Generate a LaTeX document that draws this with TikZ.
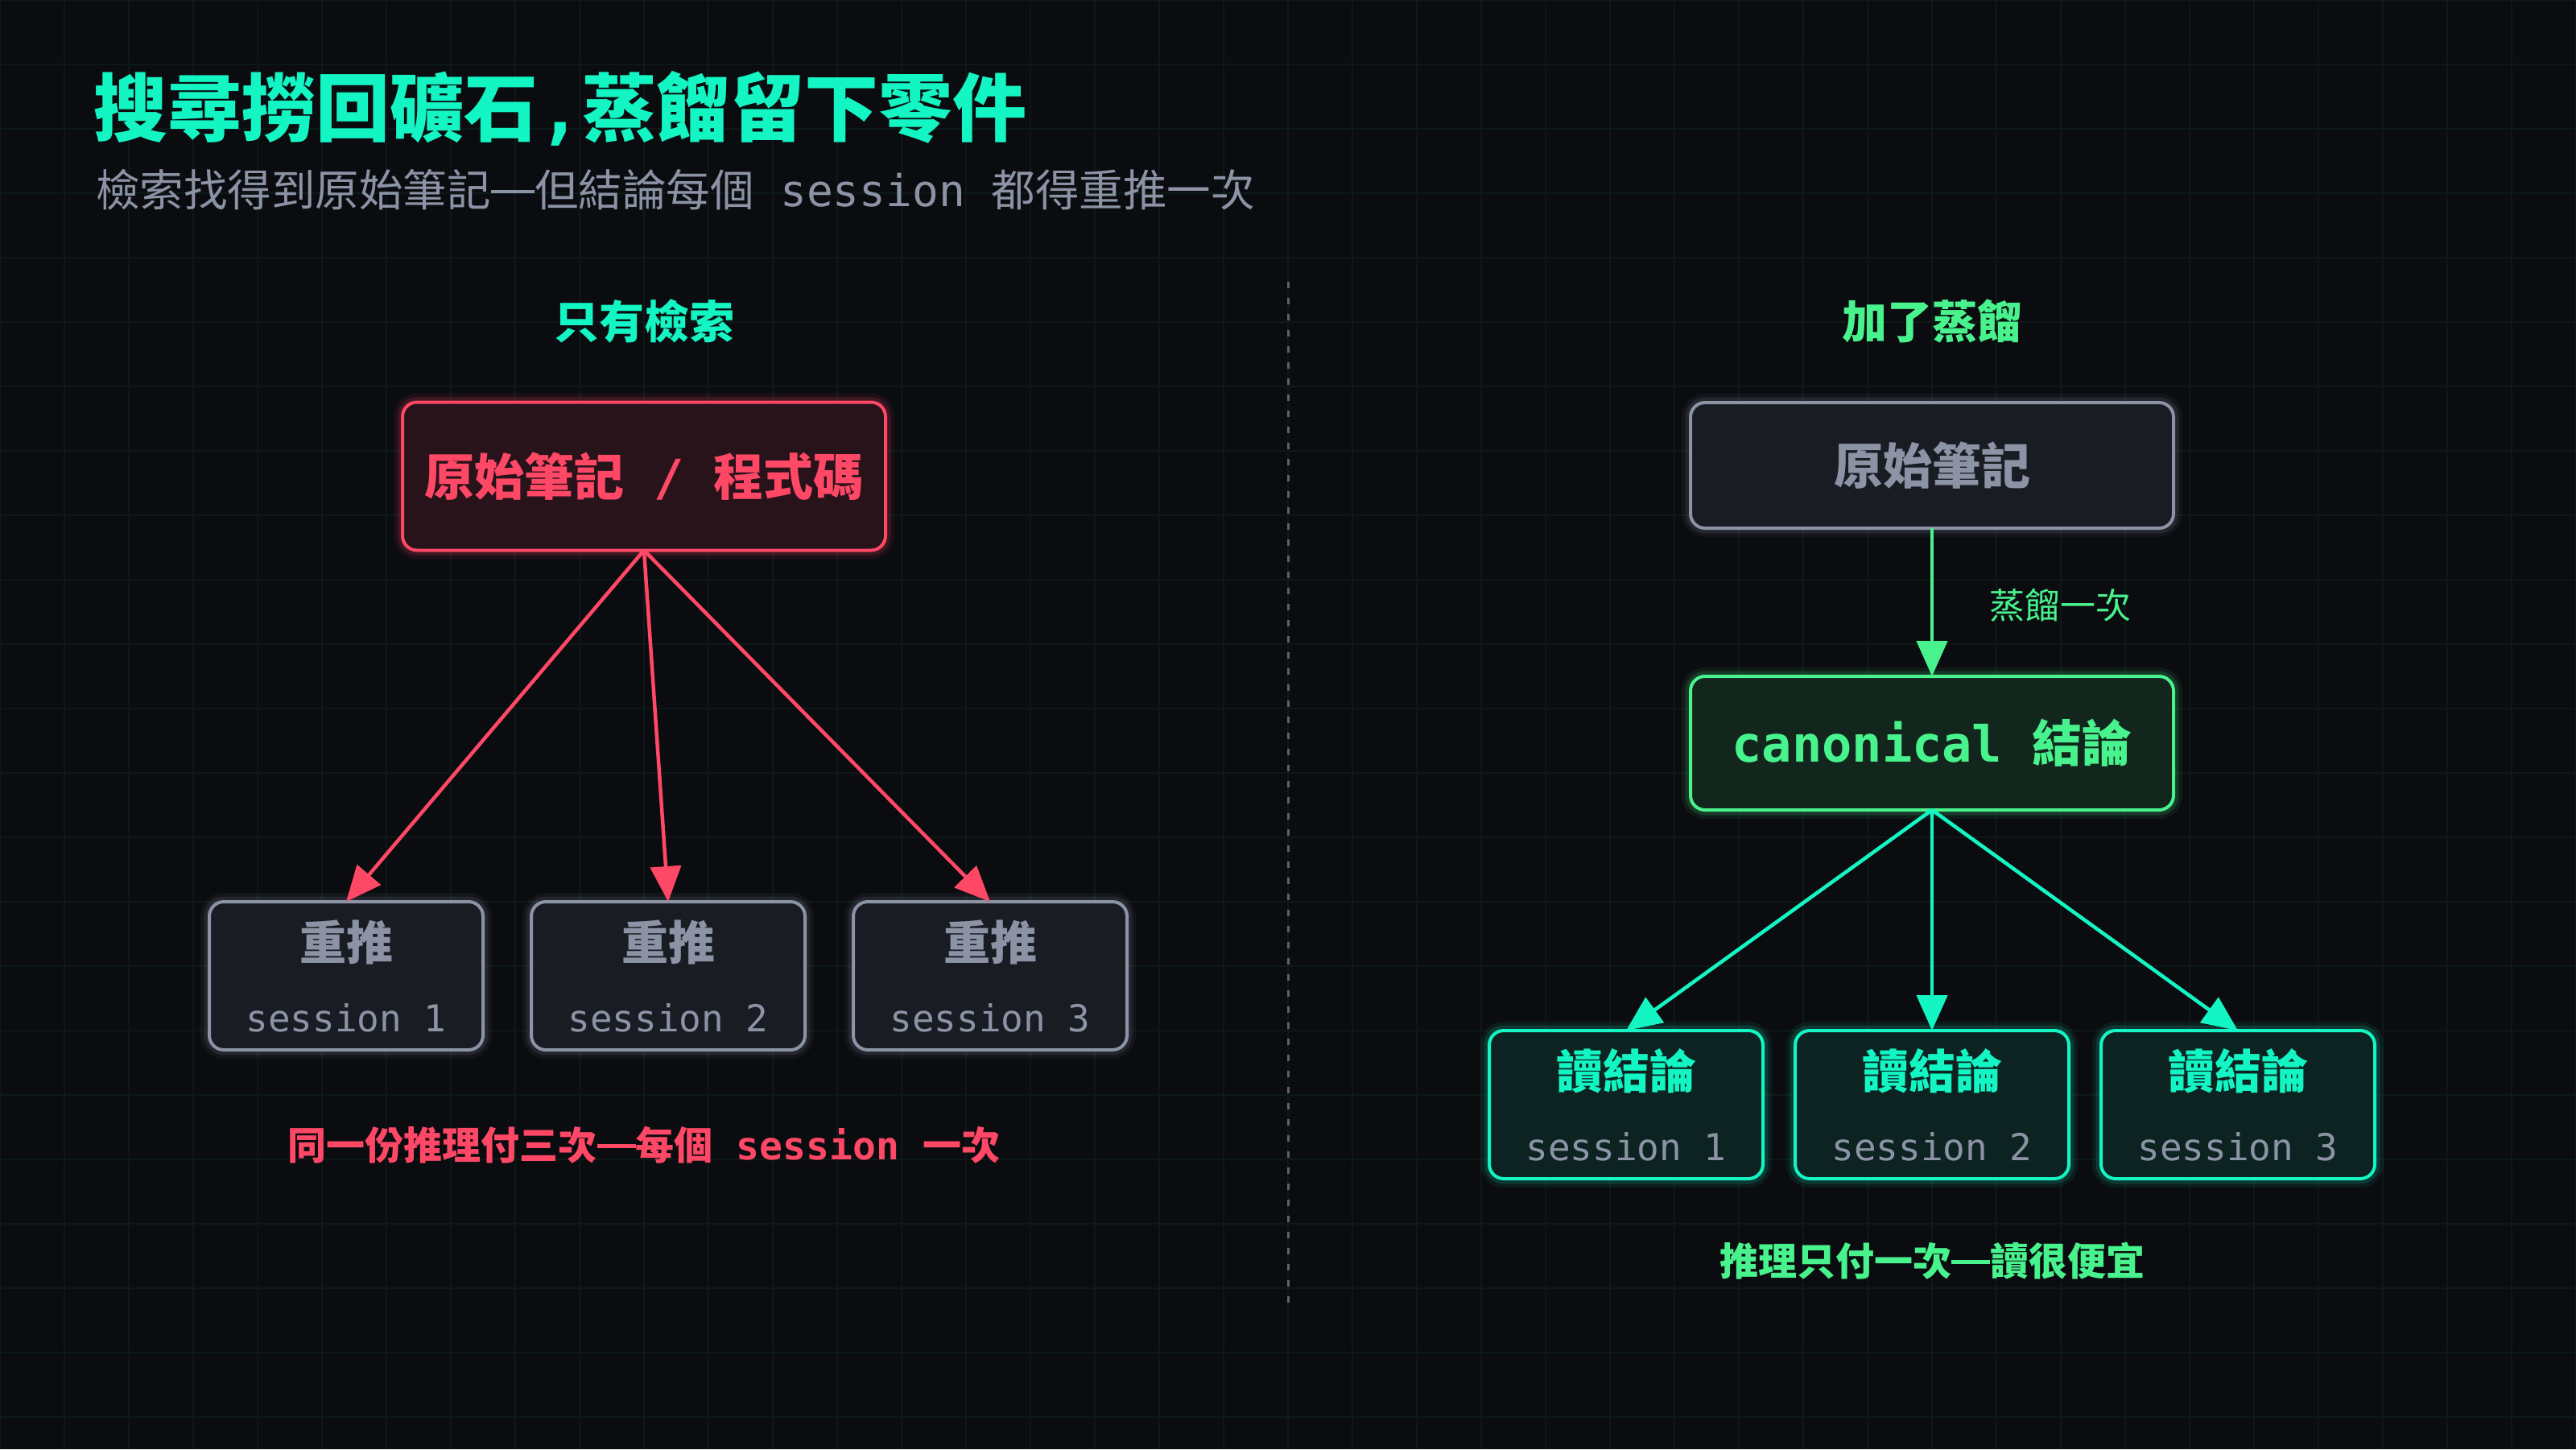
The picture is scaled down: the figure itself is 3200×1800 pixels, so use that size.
\documentclass[tikz,border=0pt]{standalone}
\usepackage{fontspec}
\setmainfont{Noto Sans CJK TC}
\setmonofont{DejaVu Sans Mono}
\usetikzlibrary{arrows.meta}
\definecolor{bg}{HTML}{0B0C10}
\definecolor{gridc}{HTML}{0D1917}
\definecolor{cteal}{HTML}{14F5C4}
\definecolor{cgreen}{HTML}{48F28C}
\definecolor{cred}{HTML}{FF4766}
\definecolor{cgray}{HTML}{8B93A5}
\definecolor{cdash}{HTML}{5B6170}
\definecolor{redfill}{HTML}{28131B}
\definecolor{grayfill}{HTML}{191C23}
\definecolor{greenfill}{HTML}{13261D}
\definecolor{tealfill}{HTML}{0C2321}
\newcommand{\myfs}[1]{\fontsize{#1}{#1}\selectfont}
\newcommand{\emd}{\makebox[1em]{\rule[0.31em]{1em}{0.075em}}}
\newcommand{\emdb}{\makebox[1em]{\rule[0.30em]{1em}{0.1em}}}
\begin{document}
\begin{tikzpicture}[x=1pt,y=-1pt,
  txt/.style={inner sep=0pt, outer sep=0pt},
  glow/.style={preaction={draw=#1, draw opacity=0.07, line width=22pt},
               preaction={draw=#1, draw opacity=0.14, line width=13pt}},
  box/.style={rounded corners=18pt, line width=4pt, inner sep=0pt, outer sep=0pt},
  bigbox/.style={box, minimum width=600pt},
  smallbox/.style={box, minimum width=340pt, minimum height=184pt},
  redbox/.style={draw=cred, fill=redfill, glow=cred},
  graybox/.style={draw=cgray, fill=grayfill, glow=cgray},
  greenbox/.style={draw=cgreen, fill=greenfill, glow=cgreen},
  tealbox/.style={draw=cteal, fill=tealfill, glow=cteal},
  arr/.style={line width=4.5pt, -{Triangle[length=44pt,width=38pt]}},
  cjkbold/.style={txt, font=\bfseries\myfs{#1}},
  sess/.style={txt, font=\ttfamily\myfs{46}, text=cgray}
]
\useasboundingbox (0,0) rectangle (3200,1800);
\fill[bg] (0,0) rectangle (3200,1800);
\foreach \gx in {0,80,...,3200} \draw[gridc, line width=2pt] (\gx,0) -- (\gx,1800);
\foreach \gy in {0,80,...,1800} \draw[gridc, line width=2pt] (0,\gy) -- (3200,\gy);

% title
\node[cjkbold=92, text=cteal, anchor=west] (title) at (116,135) {搜尋撈回礦石{\ttfamily ,}蒸餾留下零件};
\node[txt, font=\myfs{54.5}, text=cgray, anchor=west] (subtitle) at (119,236) {檢索找得到原始筆記\emd 但結論每個{\ttfamily\ session\ }都得重推一次};

% divider
\coordinate (dtop) at (1600,350);
\coordinate (dbot) at (1600,1620);
\draw[cdash, line width=3pt, dash pattern=on 8pt off 12pt] (dtop) -- (dbot);

% headers
\node[cjkbold=56, text=cteal] (hleft) at (800,399) {只有檢索};
\node[cjkbold=56, text=cgreen] (hright) at (2400,399) {加了蒸餾};

% left side
\node[bigbox, redbox, minimum height=184pt, text=cred, font=\bfseries\myfs{62}] (src) at (800,591.5) {原始筆記{\ttfamily\ /\ }程式碼};
\foreach \i/\x in {1/430,2/830,3/1230}{
  \node[smallbox, graybox] (L\i) at (\x,1212) {};
  \node[cjkbold=58, text=cgray] (Lt\i) at (\x,1170) {重推};
  \node[sess] (Ls\i) at (\x,1264) {session \i};
}
\foreach \i in {1,2,3}{
  \draw[arr, cred] (src.south) -- (L\i.north);
}
\node[cjkbold=48, text=cred] (lcap) at (800,1422) {同一份推理付三次\emdb 每個{\ttfamily\ session\ }一次};

% right side
\node[bigbox, graybox, minimum height=156pt, text=cgray, font=\bfseries\myfs{61}] (raw) at (2400,578) {原始筆記};
\node[bigbox, greenbox, minimum height=166pt, text=cgreen, font=\bfseries\myfs{62}] (canon) at (2400,923) {{\ttfamily canonical\ }結論};
\draw[arr, cgreen] (raw.south) -- (canon.north)
  node[txt, pos=0.52, anchor=west, xshift=71pt, font=\myfs{44}, text=cgreen] (dlabel) {蒸餾一次};
\foreach \i/\x in {1/2020,2/2400,3/2780}{
  \node[smallbox, tealbox] (R\i) at (\x,1372) {};
  \node[cjkbold=58, text=cteal] (Rt\i) at (\x,1330) {讀結論};
  \node[sess] (Rs\i) at (\x,1424) {session \i};
}
\foreach \i in {1,2,3}{
  \draw[arr, cteal] (canon.south) -- (R\i.north);
}
\node[cjkbold=48, text=cgreen] (rcap) at (2400,1566) {推理只付一次\emdb 讀很便宜};
\end{tikzpicture}
\end{document}
